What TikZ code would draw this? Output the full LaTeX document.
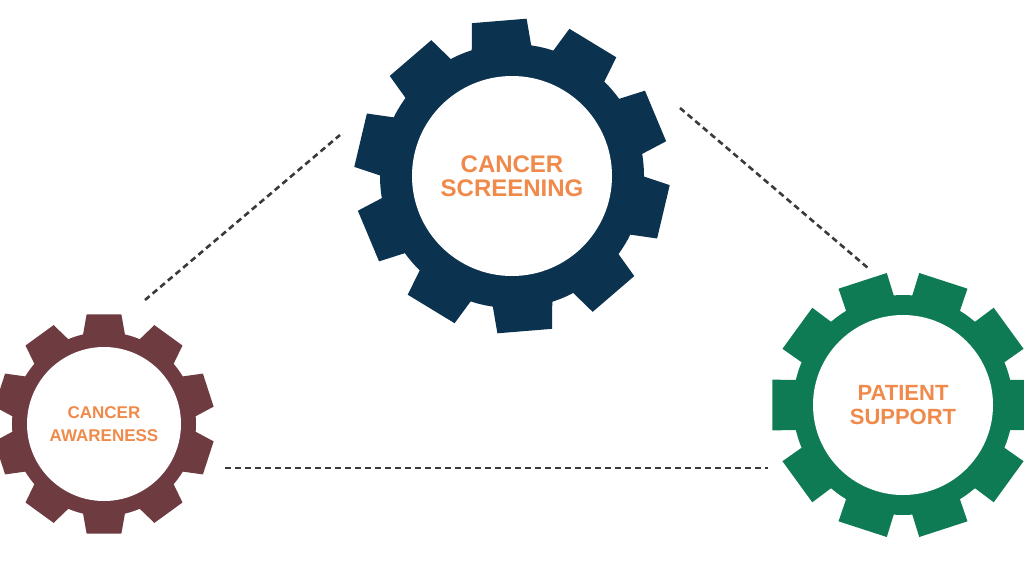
\documentclass[tikz,border=0pt]{standalone}
\usepackage{fontspec}
\setmainfont{Liberation Sans}
\definecolor{navy}{HTML}{0B3350}
\definecolor{maroon}{HTML}{6E3B41}
\definecolor{gren}{HTML}{0F7B55}
\definecolor{orng}{HTML}{F08A4B}
\definecolor{dashgray}{HTML}{3A3A3A}
\tikzset{
  lbl/.style={text=orng,font=\bfseries,align=center,inner sep=0pt},
  link/.style={draw=dashgray,line width=2.6pt,dash pattern=on 6pt off 4pt}
}
\newcommand{\mygear}[9]{%
  \fill[#2] (#1) circle (#5);
  \foreach \k in {1,...,#3}{%
    \pgfmathsetmacro{\a}{#4+360/#3*\k}
    \fill[#2] ($(#1)+(\a-#9:#5-3)$) -- ($(#1)+(\a-#8:#6)$) -- ($(#1)+(\a+#8:#6)$) -- ($(#1)+(\a+#9:#5-3)$) -- cycle;
  }
  \fill[white] (#1) circle (#7);
}
\usetikzlibrary{calc}
\begin{document}
\begin{tikzpicture}[x=1pt,y=-1pt]
\useasboundingbox (0,0) rectangle (1024,576);
\coordinate (cs) at (512,176);
\coordinate (ca) at (104,424);
\coordinate (ps) at (903,405);
\mygear{cs}{navy}{10}{-94.7}{132}{158}{100}{10}{13.5}
\mygear{ca}{maroon}{10}{-90}{92}{111}{77}{9}{14}
\mygear{ps}{gren}{10}{0}{110}{133}{90}{11}{13.5}
\node[lbl,font=\bfseries\fontsize{24}{24}\selectfont] (tcs) at (cs) {CANCER\\SCREENING};
\node[lbl,font=\bfseries\fontsize{17}{23}\selectfont] (tca) at (ca) {CANCER\\AWARENESS};
\node[lbl,font=\bfseries\fontsize{22}{24}\selectfont] (tps) at (ps) {PATIENT\\SUPPORT};
\coordinate (l1a) at (145,300); \coordinate (l1b) at (340,135);
\coordinate (l2a) at (680,108); \coordinate (l2b) at (868,268);
\coordinate (l3a) at (225,468); \coordinate (l3b) at (768,468);
\draw[link] (l1a) -- (l1b);
\draw[link] (l2a) -- (l2b);
\draw[link] (l3a) -- (l3b);
\end{tikzpicture}
\end{document}
